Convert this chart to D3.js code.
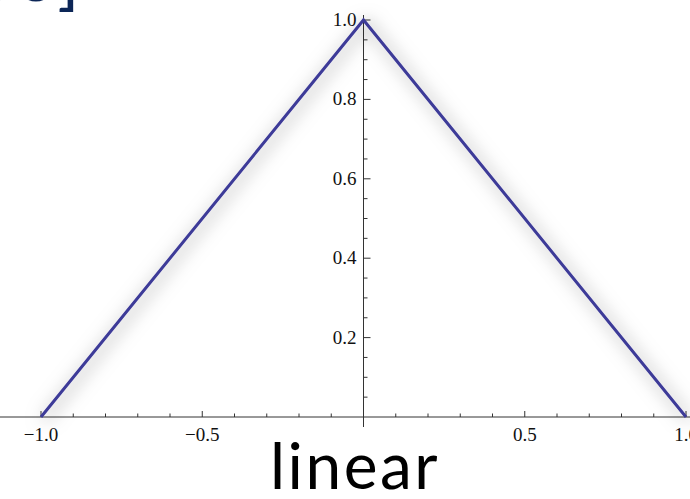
<!DOCTYPE html>
<html>
<head>
<meta charset="utf-8">
<script src="https://cdn.jsdelivr.net/npm/d3@7"></script>
<style>
  html, body { margin: 0; padding: 0; background: #fff; }
  svg { display: block; }
</style>
</head>
<body>
<svg id="chart" width="690" height="499"></svg>
<script>
// Triangle (linear) kernel: k(x) = 1 - |x| on [-1, 1]
const kernelX = [-1, 0, 1];
const kernelY = [0, 1, 0];
const xMajorTicks = [-1, -0.5, 0.5, 1];
const yMajorTicks = [0.2, 0.4, 0.6, 0.8, 1.0];
const xMinorTicks = d3.range(-10, 11).map(i => i / 10);
const yMinorTicks = d3.range(1, 21).map(i => i / 20);
const caption = "linear";
const headerTail = "00]";

const svg = d3.select("#chart");
const W = 690, H = 499;

const x = d3.scaleLinear().domain([-1, 1]).range([41, 686]);
const y = d3.scaleLinear().domain([0, 1]).range([417, 20]);

const defs = svg.append("defs");
const shadow = defs.append("filter").attr("id", "soft-shadow")
  .attr("x", "-20%").attr("y", "-20%").attr("width", "140%").attr("height", "140%");
shadow.append("feDropShadow")
  .attr("dx", 3).attr("dy", 3).attr("stdDeviation", 9)
  .attr("flood-color", "#000").attr("flood-opacity", 0.55);

// Clipped header text at the top-left
svg.append("text")
  .attr("x", 80).attr("y", 1)
  .attr("text-anchor", "end")
  .attr("font-family", "'Gill Sans', Lato, 'Open Sans', sans-serif")
  .attr("font-size", 74)
  .attr("fill", "#0c2657")
  .text(headerTail);

const axisColor = "#333";
const labelFont = "'Liberation Serif', 'Times New Roman', serif";

// x axis with ticks pointing up
const gx = svg.append("g");
gx.selectAll("line.minor").data(xMinorTicks).join("line")
  .attr("x1", d => x(d)).attr("x2", d => x(d))
  .attr("y1", y(0)).attr("y2", d => y(0) - (Math.abs(d * 2 - Math.round(d * 2)) < 1e-9 ? 6 : 3.5))
  .attr("stroke", axisColor).attr("stroke-width", 1);
gx.append("line")
  .attr("x1", 0).attr("x2", W).attr("y1", y(0)).attr("y2", y(0))
  .attr("stroke", axisColor).attr("stroke-width", 1);
gx.selectAll("text").data(xMajorTicks).join("text")
  .attr("x", d => x(d)).attr("y", y(0) + 24)
  .attr("text-anchor", "middle")
  .attr("font-family", labelFont)
  .attr("font-size", 19)
  .attr("fill", "#111")
  .text(d => d3.format(".1f")(d).replace("-", "\u2212"));

// y axis at x = 0 with ticks pointing right
const gy = svg.append("g");
gy.selectAll("line.minor").data(yMinorTicks).join("line")
  .attr("y1", d => y(d)).attr("y2", d => y(d))
  .attr("x1", x(0)).attr("x2", d => x(0) + (Math.abs(d * 5 - Math.round(d * 5)) < 1e-9 ? 7 : 4))
  .attr("stroke", axisColor).attr("stroke-width", 1);
gy.append("line")
  .attr("x1", x(0)).attr("x2", x(0)).attr("y1", y(1) - 5).attr("y2", y(0) + 10)
  .attr("stroke", axisColor).attr("stroke-width", 1);
gy.selectAll("text").data(yMajorTicks).join("text")
  .attr("x", x(0) - 7).attr("y", d => y(d) + 6)
  .attr("text-anchor", "end")
  .attr("font-family", labelFont)
  .attr("font-size", 19)
  .attr("fill", "#111")
  .text(d => d3.format(".1f")(d));

// Kernel curve with soft shadow
const line = d3.line().x((d, i) => x(kernelX[i])).y(d => y(d));
svg.append("path")
  .datum(kernelY)
  .attr("d", line)
  .attr("fill", "none")
  .attr("stroke", "#3d3a98")
  .attr("stroke-width", 3)
  .attr("stroke-linejoin", "miter")
  .attr("filter", "url(#soft-shadow)");

// Caption
svg.append("text")
  .attr("x", 355).attr("y", 489)
  .attr("text-anchor", "middle")
  .attr("font-family", "'Gill Sans', Lato, 'Open Sans', sans-serif")
  .attr("font-size", 64)
  .attr("letter-spacing", 2.5)
  .attr("fill", "#000")
  .text(caption);
</script>
</body>
</html>
